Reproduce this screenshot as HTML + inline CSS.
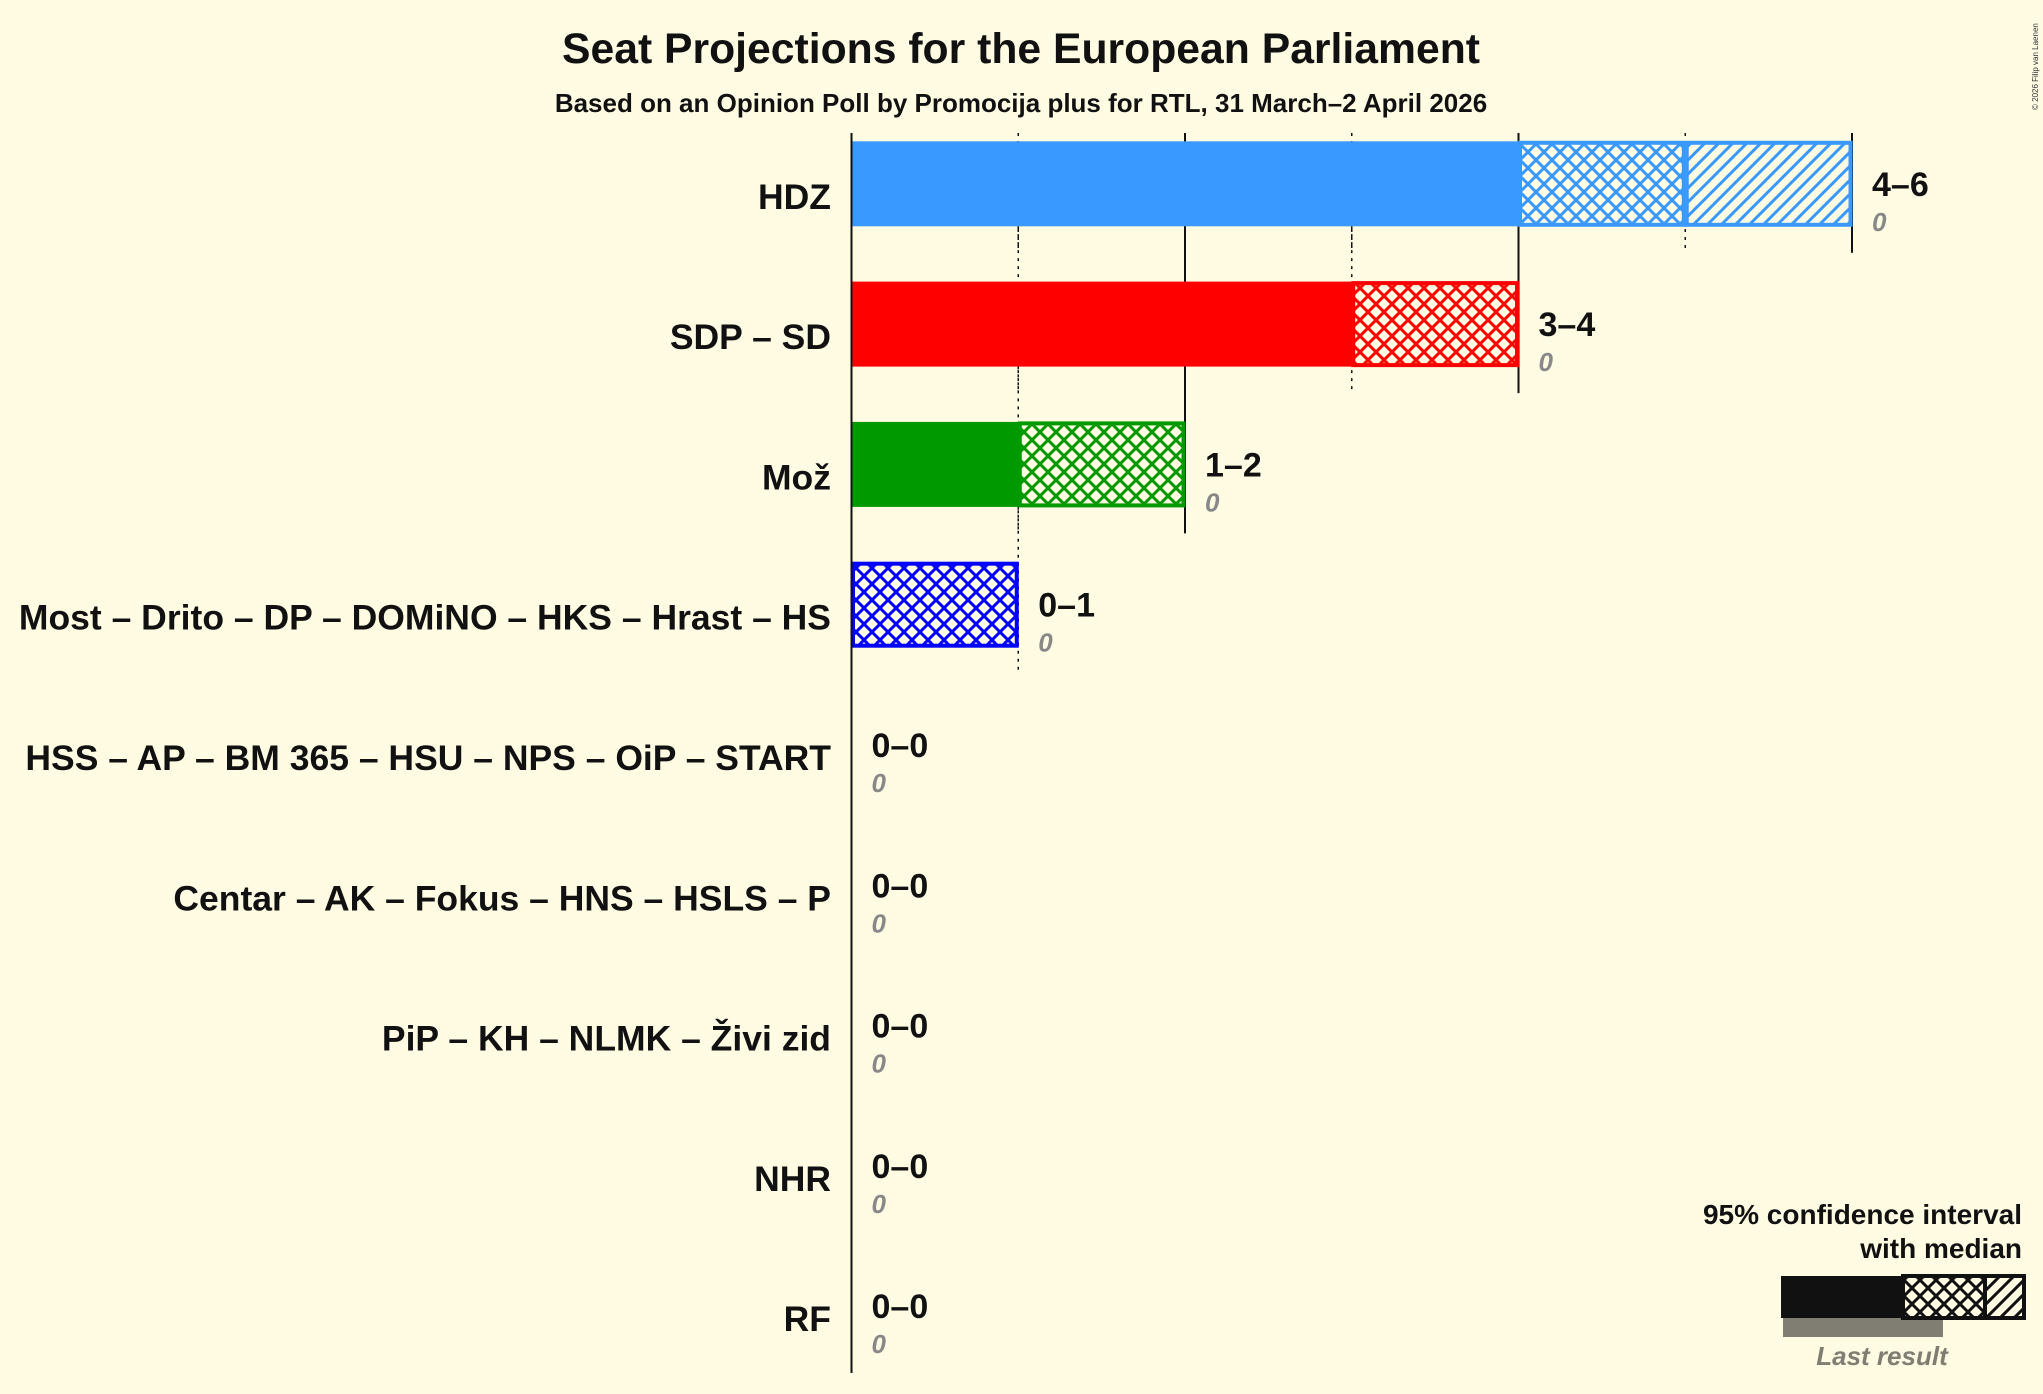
<!DOCTYPE html>
<html><head><meta charset="utf-8"><style>
html,body{margin:0;padding:0;background:#FFFCE3;}
svg{display:block;font-family:"Liberation Sans",sans-serif;}
</style></head><body>
<svg id="chart" width="2043" height="1394" viewBox="0 0 2043 1394" xmlns="http://www.w3.org/2000/svg">
<rect width="2043" height="1394" fill="#FFFCE3"/>
<defs id="defs"></defs>
<text x="1021" y="63" text-anchor="middle" font-size="42.7" font-weight="bold" fill="#111">Seat Projections for the European Parliament</text>
<text x="1021" y="112" text-anchor="middle" font-size="26" font-weight="bold" fill="#111">Based on an Opinion Poll by Promocija plus for RTL, 31 March–2 April 2026</text>
<text transform="translate(2038,110) rotate(-90)" font-size="8" fill="#333">© 2026 Filip van Laenen</text>
<g id="grid"></g>
<g id="bars"></g>
<g id="labels"></g>
<line x1="851.5" y1="133" x2="851.5" y2="1373" stroke="#111" stroke-width="2"/>
<g>
<text x="2022" y="1224" text-anchor="end" font-size="28" font-weight="bold" fill="#111">95% confidence interval</text>
<text x="2022" y="1258" text-anchor="end" font-size="28" font-weight="bold" fill="#111">with median</text>
<rect x="1783" y="1318" width="160" height="19" fill="#807E72"/>
<rect x="1781" y="1276" width="122" height="42" fill="#111"/>
<rect x="1903" y="1276" width="82" height="42" fill="url(#pat-cross-111)" stroke="#111" stroke-width="4"/>
<rect x="1985" y="1276" width="39" height="42" fill="url(#pat-diag-111)" stroke="#111" stroke-width="4"/>
<text x="1882" y="1365" text-anchor="middle" font-size="26" font-style="italic" font-weight="bold" fill="#807E72">Last result</text>
</g>
</svg>
<script>
const parties = ["HDZ","SDP – SD","Mož","Most – Drito – DP – DOMiNO – HKS – Hrast – HS","HSS – AP – BM 365 – HSU – NPS – OiP – START","Centar – AK – Fokus – HNS – HSLS – P","PiP – KH – NLMK – Živi zid","NHR","RF"];
const lowerCI = [4,3,1,0,0,0,0,0,0];
const medians = [5,4,2,1,0,0,0,0,0];
const upperCI = [6,4,2,1,0,0,0,0,0];
const lastResult = [0,0,0,0,0,0,0,0,0];
const colors = ["#3A99FF","#FF0000","#009900","#0000FF","#888","#888","#888","#888","#888"];

const NS="http://www.w3.org/2000/svg";
const x0=851.5, seatW=166.75, row0=183.8, pitch=140.3, barH=85;
function xs(v){return x0+v*seatW;}
function yc(i){return row0+i*pitch;}
function mk(tag,attrs,parent){const e=document.createElementNS(NS,tag);for(const k in attrs)e.setAttribute(k,attrs[k]);parent.appendChild(e);return e;}
const defs=document.getElementById('defs'), grid=document.getElementById('grid'), bars=document.getElementById('bars'), labels=document.getElementById('labels');
function patterns(c,id){
  const p1=mk('pattern',{id:'pat-cross-'+id,width:16,height:16,patternUnits:'userSpaceOnUse'},defs);
  mk('rect',{width:16,height:16,fill:'#FFFCE3'},p1);
  mk('path',{d:'M0,0L16,16M16,0L0,16M-4,12L4,20M12,-4L20,4M-4,4L4,-4M12,20L20,12',stroke:c,'stroke-width':3},p1);
  const p2=mk('pattern',{id:'pat-diag-'+id,width:14,height:14,patternUnits:'userSpaceOnUse'},defs);
  mk('rect',{width:14,height:14,fill:'#FFFCE3'},p2);
  mk('path',{d:'M0,14L14,0M-7,7L7,-7M7,21L21,7',stroke:c,'stroke-width':3},p2);
}
patterns('#111','111');
parties.forEach((p,i)=>{
  const c=yc(i), col=colors[i], id='p'+i;
  patterns(col,id);
  for(let k=1;k<=upperCI[i];k++){
    const top=Math.max(133,c-98);
    const ln=mk('line',{x1:xs(k),x2:xs(k),y1:top,y2:c+69,stroke:'#111','stroke-width':k%2?1.5:2,'stroke-dasharray':k%2?'3,5':'none'},grid);
    
    
  }
  if(i===0){for(let k=1;k<=6;k++){const t=mk('line',{x1:xs(k),x2:xs(k),y1:133,y2:c-40,stroke:'#111','stroke-width':k%2?1.5:2,'stroke-dasharray':k%2?'3,5':'none'},grid);
    
    }}
  const t=c-barH/2;
  if(lowerCI[i]>0){
    const r=mk('rect',{x:xs(0),y:t,width:xs(lowerCI[i])-xs(0),height:barH,fill:col},bars);
    
    
  }
  if(medians[i]>lowerCI[i]){
    const r=mk('rect',{x:xs(lowerCI[i])+1.5,y:t+1.5,width:xs(medians[i])-xs(lowerCI[i])-3,height:barH-3,fill:'url(#pat-cross-'+id+')',stroke:col,'stroke-width':4},bars);
    
    
  }
  if(upperCI[i]>medians[i]){
    const r=mk('rect',{x:xs(medians[i])+1.5,y:t+1.5,width:xs(upperCI[i])-xs(medians[i])-3,height:barH-3,fill:'url(#pat-diag-'+id+')',stroke:col,'stroke-width':4},bars);
    
    
  }
  const pl=mk('text',{x:831,y:c+25,'text-anchor':'end','font-size':35.5,'font-weight':'bold',fill:'#111'},labels);
  pl.textContent=p;
  
  
  const lx=xs(upperCI[i])+20;
  const rl=mk('text',{x:lx,y:c+12,'font-size':34,'font-weight':'bold',fill:'#111'},labels);
  rl.textContent=lowerCI[i]+'–'+upperCI[i];
  
  
  const ll=mk('text',{x:lx,y:c+47,'font-size':26,'font-style':'italic','font-weight':'bold',fill:'#888'},labels);
  ll.textContent=lastResult[i];
  
  
});
</script>
</body></html>
